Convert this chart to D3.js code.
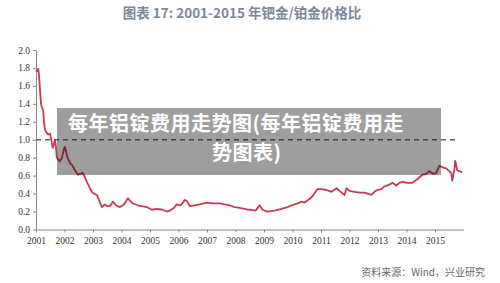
<!DOCTYPE html>
<html>
<head>
<meta charset="utf-8">
<script src="https://cdn.jsdelivr.net/npm/d3@7"></script>
<style>
  body { margin: 0; background: #fff; }
  svg { display: block; }
</style>
</head>
<body>
<div id="chart"></div>
<script>
// palladium / platinum price ratio
const years = [2001.000, 2001.081, 2001.105, 2001.140, 2001.175, 2001.200, 2001.256, 2001.280, 2001.315, 2001.368,
  2001.420, 2001.490, 2001.525, 2001.585, 2001.630, 2001.665, 2001.700, 2001.725, 2001.771, 2001.841,
  2001.911, 2001.981, 2002.016, 2002.086, 2002.191, 2002.261, 2002.366, 2002.471, 2002.541, 2002.646,
  2002.716, 2002.786, 2002.891, 2002.961, 2003.032, 2003.137, 2003.207, 2003.312, 2003.417, 2003.487,
  2003.592, 2003.697, 2003.802, 2003.942, 2004.047, 2004.117, 2004.222, 2004.292, 2004.398, 2004.573,
  2004.713, 2004.888, 2005.063, 2005.238, 2005.448, 2005.588, 2005.693, 2005.834, 2005.939, 2006.079,
  2006.219, 2006.289, 2006.394, 2006.569, 2006.744, 2006.884, 2006.989, 2007.200, 2007.445, 2007.620,
  2007.795, 2007.970, 2008.145, 2008.320, 2008.426, 2008.566, 2008.706, 2008.846, 2008.951, 2009.126,
  2009.371, 2009.617, 2009.827, 2009.967, 2010.177, 2010.317, 2010.422, 2010.597, 2010.702, 2010.807,
  2010.877, 2011.018, 2011.193, 2011.368, 2011.543, 2011.648, 2011.823, 2011.893, 2011.998, 2012.173,
  2012.348, 2012.524, 2012.769, 2012.874, 2012.979, 2013.119, 2013.224, 2013.399, 2013.504, 2013.644,
  2013.750, 2013.855, 2014.030, 2014.205, 2014.380, 2014.555, 2014.695, 2014.800, 2014.940, 2015.046,
  2015.151, 2015.291, 2015.396, 2015.501, 2015.571, 2015.606, 2015.676, 2015.711, 2015.781, 2015.851,
  2015.956];
const ratio = [1.76, 1.79, 1.72, 1.56, 1.40, 1.37, 1.32, 1.20, 1.11, 1.08,
  1.06, 1.07, 1.02, 0.91, 0.95, 1.00, 0.92, 0.81, 0.78, 0.76,
  0.80, 0.90, 0.92, 0.82, 0.74, 0.72, 0.66, 0.61, 0.62, 0.63,
  0.58, 0.53, 0.46, 0.42, 0.40, 0.385, 0.33, 0.25, 0.28, 0.26,
  0.26, 0.31, 0.27, 0.25, 0.27, 0.29, 0.35, 0.32, 0.29, 0.27,
  0.26, 0.25, 0.22, 0.23, 0.22, 0.20, 0.21, 0.24, 0.28, 0.27,
  0.33, 0.32, 0.26, 0.27, 0.28, 0.29, 0.30, 0.29, 0.29, 0.28,
  0.27, 0.25, 0.24, 0.23, 0.22, 0.22, 0.21, 0.27, 0.22, 0.20,
  0.21, 0.23, 0.25, 0.27, 0.29, 0.31, 0.30, 0.34, 0.37, 0.42,
  0.45, 0.45, 0.44, 0.42, 0.46, 0.43, 0.385, 0.46, 0.43, 0.42,
  0.41, 0.41, 0.385, 0.42, 0.44, 0.45, 0.48, 0.50, 0.52, 0.49,
  0.52, 0.53, 0.52, 0.52, 0.56, 0.61, 0.62, 0.65, 0.62, 0.63,
  0.71, 0.69, 0.68, 0.65, 0.63, 0.545, 0.66, 0.765, 0.66, 0.65,
  0.64];
const yearTicks = d3.range(2001, 2016);
const ratioTicks = d3.range(0, 2.01, 0.2);
const refLevel = 1.0;

const title = "图表 17: 2001-2015 年钯金/铂金价格比";
const overlayLines = ["每年铝锭费用走势图(每年铝锭费用走", "势图表)"];
const source = "资料来源：Wind，兴业研究";

const series = years.map((t, i) => ({ t, v: ratio[i] }));

const W = 500, H = 283;
const svg = d3.select("#chart").append("svg")
  .attr("width", W)
  .attr("height", H);

const x = d3.scaleLinear().domain([2001, 2016]).range([36, 463.5]);
const y = d3.scaleLinear().domain([0, 2]).range([229.5, 50]);

svg.append("text")
  .attr("x", 242)
  .attr("y", 18)
  .attr("text-anchor", "middle")
  .attr("font-family", "Noto Sans CJK SC, sans-serif")
  .attr("font-size", 13.5)
  .attr("font-weight", "bold")
  .attr("fill", "#7b8799")
  .text(title);

const gx = svg.append("g")
  .attr("transform", `translate(0,${y(0)})`)
  .call(d3.axisBottom(x).tickValues(yearTicks).tickFormat(d3.format("d")).tickSize(3).tickSizeOuter(0));

const gy = svg.append("g")
  .attr("transform", `translate(${x(2001)},0)`)
  .call(d3.axisLeft(y).tickValues(ratioTicks).tickFormat(d3.format(".1f")).tickSize(3).tickSizeOuter(0));

[gx, gy].forEach(g => {
  g.select(".domain").attr("stroke", "#8a8a8a");
  g.selectAll(".tick line").attr("stroke", "#8a8a8a");
  g.selectAll(".tick text")
    .attr("font-family", "Liberation Serif, serif")
    .attr("font-size", 9.5)
    .attr("fill", "#333");
});
gx.selectAll(".tick text").attr("dy", "0.9em");
gy.selectAll(".tick text").attr("x", -6);

svg.append("line")
  .attr("x1", x(2001))
  .attr("x2", 458)
  .attr("y1", y(refLevel))
  .attr("y2", y(refLevel))
  .attr("stroke", "#5b6679")
  .attr("stroke-width", 1.3)
  .attr("stroke-dasharray", "5,4");

const line = d3.line()
  .x(d => x(d.t))
  .y(d => y(d.v));

svg.append("path")
  .datum(series)
  .attr("fill", "none")
  .attr("stroke", "#cc3a52")
  .attr("stroke-width", 1.8)
  .attr("stroke-linejoin", "round")
  .attr("d", line);

// watermark box laid over the chart
svg.append("rect")
  .attr("x", 57)
  .attr("y", 108)
  .attr("width", 384)
  .attr("height", 67)
  .attr("fill", "rgba(0,0,0,0.38)");

const overlayX = [68, 212];
svg.selectAll("text.overlay")
  .data(overlayLines)
  .join("text")
  .attr("class", "overlay")
  .attr("x", (d, i) => overlayX[i])
  .attr("y", (d, i) => 131 + i * 29)
  .attr("font-family", "Noto Sans CJK SC, sans-serif")
  .attr("font-size", 20)
  .attr("font-weight", "bold")
  .attr("letter-spacing", 0.5)
  .attr("fill", "#fff")
  .text(d => d);

svg.append("text")
  .attr("x", 485)
  .attr("y", 276)
  .attr("text-anchor", "end")
  .attr("font-family", "Noto Sans CJK SC, sans-serif")
  .attr("font-size", 10)
  .attr("fill", "#666")
  .text(source);
</script>
</body>
</html>
